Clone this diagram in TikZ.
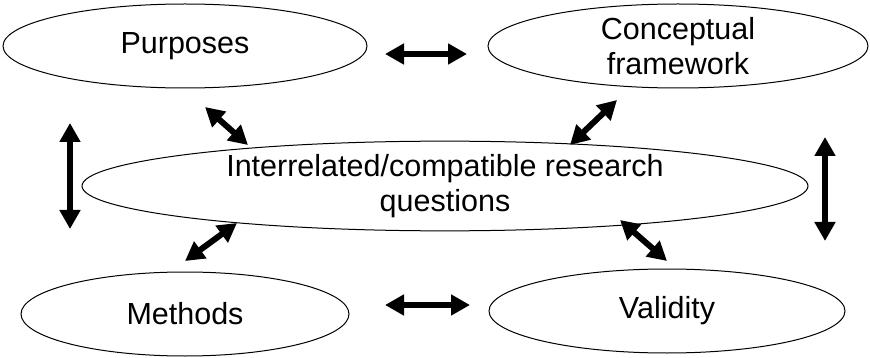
\documentclass[tikz,border=0pt]{standalone}
\usepackage{fontspec}
\setmainfont{Liberation Sans}
\usetikzlibrary{shapes.geometric}
\usetikzlibrary{arrows.meta}

\begin{document}
\begin{tikzpicture}[x=1pt,y=-1pt,
  oval/.style={draw,ellipse,line width=1pt,inner sep=0pt,align=center,font=\fontsize{30.5}{35}\selectfont},
  twoway/.style={line width=6pt,{Triangle[length=19pt,width=20pt]}-{Triangle[length=19pt,width=20pt]}}]

\useasboundingbox (0,0) rectangle (870,358);

\node[oval,minimum width=364pt,minimum height=84pt] (purp) at (185,46) {Purposes};
\node[oval,minimum width=380pt,minimum height=84pt] (conc) at (678,46) {Conceptual\\framework};
\node[oval,minimum width=726pt,minimum height=85pt] (quest) at (445,186) {Interrelated/compatible research\\questions};
\node[oval,minimum width=328pt,minimum height=84pt] (meth) at (185,314) {Methods};
\node[oval,minimum width=356pt,minimum height=84pt] (val) at (667,311) {Validity};

\coordinate (top1) at (385,54);
\coordinate (top2) at (467,54);
\coordinate (bot1) at (385,305);
\coordinate (bot2) at (470,305);
\coordinate (left1) at (70,123);
\coordinate (left2) at (70,229);
\coordinate (right1) at (825,137);
\coordinate (right2) at (825,241);
\coordinate (pq1) at (205,107);
\coordinate (pq2) at (248,145);
\coordinate (cq1) at (617,100);
\coordinate (cq2) at (570,145);
\coordinate (mq1) at (185,261);
\coordinate (mq2) at (237,223);
\coordinate (vq1) at (667,261);
\coordinate (vq2) at (620,220);

\draw[twoway] (top1) -- (top2);
\draw[twoway] (bot1) -- (bot2);
\draw[twoway] (left1) -- (left2);
\draw[twoway] (right1) -- (right2);
\draw[twoway] (pq1) -- (pq2);
\draw[twoway] (cq1) -- (cq2);
\draw[twoway] (mq1) -- (mq2);
\draw[twoway] (vq1) -- (vq2);

\end{tikzpicture}
\end{document}
